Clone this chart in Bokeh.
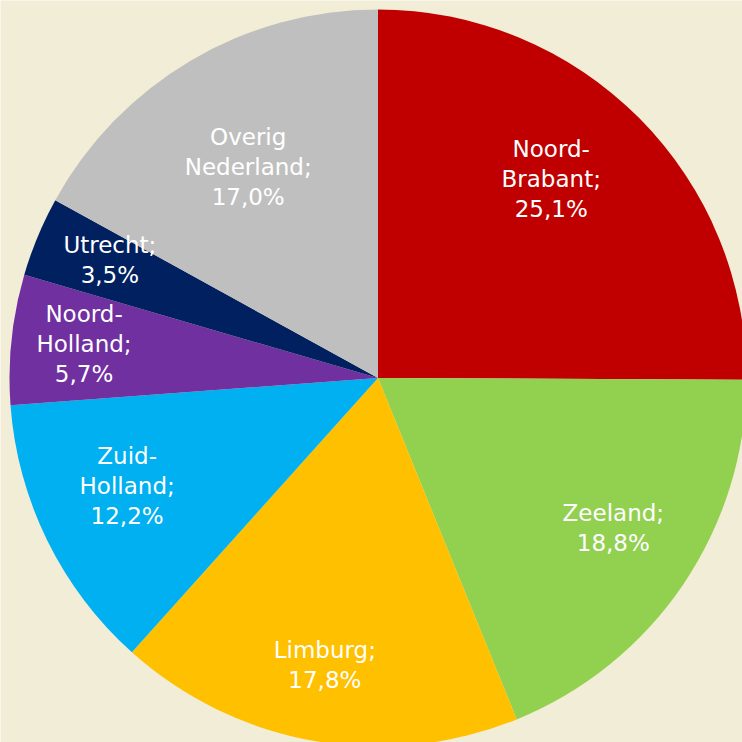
import math
from bokeh.plotting import figure
from bokeh.models import Range1d, ColumnDataSource
from bokeh.embed import file_html
from bokeh.resources import INLINE
from bokeh.core.properties import value

# ---- data ----
regions = ["Noord-Brabant", "Zeeland", "Limburg", "Zuid-Holland",
           "Noord-Holland", "Utrecht", "Overig Nederland"]
label_names = ["Noord-\nBrabant;", "Zeeland;", "Limburg;", "Zuid-\nHolland;",
               "Noord-\nHolland;", "Utrecht;", "Overig\nNederland;"]
shares = [25.1, 18.8, 17.8, 12.2, 5.7, 3.5, 17.0]
colors = ["#C00000", "#92D050", "#FFC000", "#00B0F0",
          "#7030A0", "#002060", "#BFBFBF"]

# ---- layout tweaks for label placement (Excel best-fit style) ----
label_rfac = [0.715, 0.756, 0.791, 0.74, 0.802, 0.794, 0.672]
label_dang = [4.1, 1.6, -0.6, -2.9, -0.6, -1.2, 1.0]  # degrees

BG = "#F1EDD6"
W = H = 742
R_PX = 368.5
CX, CY = 377.5, 377.5  # pie centre in figure pixels (from top-left)

total = sum(shares)
starts, ends, lx, ly, texts = [], [], [], [], []
cum = 0.0
for i, s in enumerate(shares):
    a0 = math.pi / 2 - 2 * math.pi * cum / total
    a1 = math.pi / 2 - 2 * math.pi * (cum + s) / total
    starts.append(a0)
    ends.append(a1)
    mid = (a0 + a1) / 2 + math.radians(label_dang[i])
    lx.append(label_rfac[i] * 369.0 / R_PX * math.cos(mid))
    ly.append(label_rfac[i] * 369.0 / R_PX * math.sin(mid))
    texts.append(label_names[i] + "\n" + ("%.1f" % s).replace(".", ",") + "%")
    cum += s

src = ColumnDataSource(dict(start=starts, end=ends, color=colors))
lsrc = ColumnDataSource(dict(x=lx, y=ly, text=texts))

p = figure(width=W, height=H, output_backend="svg", toolbar_location=None,
           x_range=Range1d(-CX / R_PX, (W - CX) / R_PX),
           y_range=Range1d(-(H - CY) / R_PX, CY / R_PX),
           min_border=0, background_fill_color=BG, border_fill_color=BG,
           outline_line_color=None)
p.axis.visible = False
p.grid.visible = False

p.wedge(x=0, y=0, radius=1.0, start_angle="start", end_angle="end",
        direction="clock", fill_color="color", line_color=None, source=src)

p.text(x="x", y="y", text="text", source=lsrc, text_color="white",
       text_font=value("DejaVu Sans"), text_font_size="23px",
       text_align="center", text_baseline="middle", text_line_height=1.15)

open("out.html", "w").write(file_html(p, INLINE))
